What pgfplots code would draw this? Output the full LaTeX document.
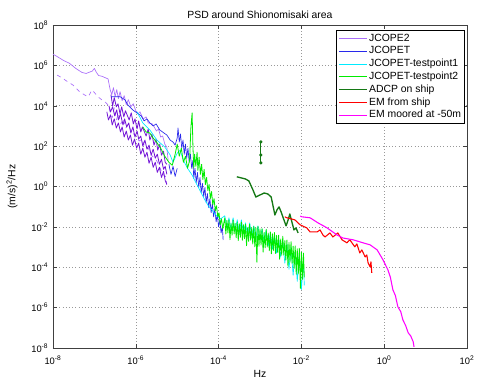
\documentclass[border=0pt]{standalone}
\usepackage{fontspec}
\setmainfont{Liberation Sans}
\usepackage{pgfplots}
\pgfplotsset{compat=1.18}
\definecolor{jc2}{RGB}{170,110,250}
\definecolor{jc2d}{RGB}{115,20,215}
\definecolor{jct}{RGB}{40,40,235}
\definecolor{tp1}{RGB}{0,235,255}
\definecolor{tp2}{RGB}{0,235,0}
\definecolor{adcp}{RGB}{20,120,20}
\definecolor{emship}{RGB}{255,0,0}
\definecolor{emmoor}{RGB}{255,0,255}
\begin{document}
\begin{tikzpicture}
\useasboundingbox (-39.75pt,-23.25pt) rectangle (318.75pt,261pt);
% values are log10(frequency / Hz) and log10(PSD / (m/s)^2/Hz)
\begin{axis}[
  at={(0,0)}, anchor=south west, scale only axis,
  width=310.5pt, height=242.25pt,
  xmin=-8, xmax=2, ymin=-8, ymax=8,
  xtick={-8,-6,-4,-2,0,2}, ytick={-8,-6,-4,-2,0,2,4,6,8},
  xticklabels={10\textsuperscript{-8},10\textsuperscript{-6},10\textsuperscript{-4},10\textsuperscript{-2},10\textsuperscript{0},10\textsuperscript{2}},
  yticklabels={10\textsuperscript{-8},10\textsuperscript{-6},10\textsuperscript{-4},10\textsuperscript{-2},10\textsuperscript{0},10\textsuperscript{2},10\textsuperscript{4},10\textsuperscript{6},10\textsuperscript{8}},
  tick label style={font=\fontsize{7}{8}\selectfont},
  xticklabel style={yshift=-2.5pt},
  tick align=inside, major tick length=3pt, tick style={black!75},
  axis line style={black!75},
  grid=major, major grid style={dotted, black!40, line width=0.45pt},
  title={PSD around Shionomisaki area},
  title style={font=\fontsize{7.8}{9}\selectfont, yshift=-4.5pt},
  xlabel={Hz}, ylabel={(m/s)\textsuperscript{2}/Hz},
  label style={font=\fontsize{7.8}{9}\selectfont},
  xlabel style={at={(axis description cs:0.5,0)}, anchor=center, yshift=-19.5pt},
  ylabel style={at={(axis description cs:-0.099,0.5)}, anchor=center},
  legend cell align=left,
  legend style={at={(0.995,0.985)}, anchor=north east, font=\fontsize{7.8}{9}\selectfont,
    inner sep=1.5pt, row sep=0pt,
    nodes={inner sep=1.2pt, text height=5.6pt, text depth=1.6pt}},
  legend image code/.code={\draw[line width=0.75pt, line cap=butt] (0pt,0pt) -- (21pt,0pt);},
  every axis plot/.append style={line width=0.5pt, line join=round},
]
% JCOPE2
\addplot[jc2] coordinates {(-8.0,6.55) (-7.95,6.5) (-7.75,6.25) (-7.6,6.1) (-7.45,5.85) (-7.3,5.65) (-7.2,5.6) (-7.05,5.72) (-7.0,5.85) (-6.95,5.65) (-6.9,5.5) (-6.8,5.45) (-6.75,5.4) (-6.67,5.33) (-6.62,4.8) (-6.58,4.55) (-6.54,4.9) (-6.5,4.45) (-6.46,4.8) (-6.42,4.35) (-6.38,4.7) (-6.33,4.25) (-6.28,4.5) (-6.23,4.05) (-6.18,4.3) (-6.12,3.95) (-6.06,4.1) (-6.0,3.75) (-5.95,3.6) (-5.9,3.7) (-5.82,3.35) (-5.75,3.45) (-5.7,3.15) (-5.6,3.1) (-5.5,2.75) (-5.45,2.85) (-5.4,2.45) (-5.35,2.5) (-5.3,2.1) (-5.25,1.95) (-5.22,1.3)};
\addlegendentry{JCOPE2}
\addplot[jc2, dashed, forget plot] coordinates {(-7.9,5.52) (-7.78,5.38) (-7.64,5.18) (-7.52,5.03) (-7.35,4.68) (-7.23,4.53) (-7.15,4.44) (-7.06,4.78) (-6.99,4.63) (-6.91,4.44) (-6.82,4.29) (-6.74,4.19) (-6.67,4.04) (-6.62,3.69) (-6.57,3.4) (-6.52,3.9) (-6.47,3.3) (-6.42,3.6) (-6.36,3.1) (-6.3,3.35) (-6.24,2.9) (-6.18,3.1) (-6.1,2.65) (-6.0,2.55) (-5.92,2.25) (-5.85,2.35) (-5.78,1.95) (-5.7,1.9) (-5.6,1.5) (-5.5,1.3) (-5.42,0.95) (-5.35,0.6) (-5.28,0.5) (-5.25,0.1)};
\addplot[jc2d, line width=0.6pt, forget plot] coordinates {(-6.60,4.55) (-6.56,4.0) (-6.52,4.4) (-6.47,3.95) (-6.43,4.1) (-6.38,3.6) (-6.34,3.95) (-6.29,3.45) (-6.25,3.75) (-6.2,3.5) (-6.16,3.3) (-6.11,3.65) (-6.06,3.1) (-6.02,3.35) (-5.97,2.85) (-5.93,3.25) (-5.88,2.7) (-5.84,2.95) (-5.8,2.75) (-5.75,2.5) (-5.7,2.85) (-5.66,2.3) (-5.61,2.6) (-5.56,2.05) (-5.51,2.35) (-5.47,1.8) (-5.42,2.1) (-5.38,1.55) (-5.33,1.75) (-5.29,1.2) (-5.25,1.1)};
\addplot[jc2d, line width=0.6pt, forget plot] coordinates {(-6.65,4.0) (-6.61,3.7) (-6.56,3.95) (-6.51,3.5) (-6.46,3.8) (-6.42,3.3) (-6.37,3.6) (-6.31,3.05) (-6.27,3.35) (-6.22,2.95) (-6.17,3.15) (-6.12,2.65) (-6.07,2.95) (-6.02,2.45) (-5.97,2.75) (-5.93,2.35) (-5.88,2.5) (-5.83,2.0) (-5.78,2.3) (-5.73,1.85) (-5.68,2.05) (-5.63,1.55) (-5.58,1.85) (-5.53,1.4) (-5.48,1.6) (-5.43,1.1) (-5.38,1.35) (-5.33,0.85) (-5.29,1.0) (-5.25,0.6)};
\addplot[jc2d, line width=0.6pt, forget plot] coordinates {(-6.70,3.7) (-6.66,3.3) (-6.61,3.55) (-6.57,3.05) (-6.52,3.35) (-6.47,2.9) (-6.42,3.15) (-6.37,2.7) (-6.33,2.95) (-6.28,2.45) (-6.23,2.75) (-6.18,2.3) (-6.13,2.55) (-6.08,2.05) (-6.03,2.35) (-5.98,1.9) (-5.93,2.15) (-5.88,1.6) (-5.83,1.9) (-5.78,1.45) (-5.73,1.7) (-5.68,1.15) (-5.63,1.45) (-5.58,0.95) (-5.53,1.2) (-5.48,0.7) (-5.43,0.95) (-5.38,0.45) (-5.33,0.75) (-5.29,0.3) (-5.25,0.1)};
% JCOPET
\addplot[jct] coordinates {(-6.6,4.45) (-6.38,4.45) (-6.26,4.29) (-6.19,4.04) (-6.07,3.79) (-5.97,3.64) (-5.87,3.5) (-5.8,3.25) (-5.73,3.35) (-5.66,3.15) (-5.58,3.0) (-5.51,3.1) (-5.42,2.8) (-5.32,2.65) (-5.25,2.55) (-5.17,2.3) (-5.1,2.2) (-5.05,2.05) (-5.0,2.4) (-4.98,2.9) (-4.95,2.2) (-4.92,2.6) (-4.89,1.9) (-4.86,2.3) (-4.83,1.6) (-4.8,2.1) (-4.77,1.4) (-4.74,1.9) (-4.71,1.2) (-4.68,1.6) (-4.65,0.9) (-4.62,1.3) (-4.6,0.4) (-4.57,0.9) (-4.54,0.2) (-4.51,0.7) (-4.48,-0.05) (-4.45,0.45) (-4.42,-0.3) (-4.39,0.15) (-4.36,-0.5) (-4.33,-0.05) (-4.3,-0.8) (-4.27,-0.35) (-4.24,-1.05) (-4.21,-0.6) (-4.18,-1.3) (-4.15,-0.85) (-4.12,-1.5) (-4.09,-1.1) (-4.06,-1.75) (-4.03,-1.4) (-4.0,-2.0) (-3.97,-1.65) (-3.94,-2.3) (-3.91,-2.0) (-3.89,-2.65)};
\addlegendentry{JCOPET}
\addplot[jct, forget plot] coordinates {(-5.2,1.1) (-5.15,0.6) (-5.1,1.0) (-5.05,0.5) (-5.0,0.9)};
% JCOPET testpoint1
\addplot[tp1] coordinates {(-5.97,3.7) (-5.83,3.15) (-5.66,2.8) (-5.49,2.3) (-5.3,1.96) (-5.17,1.56) (-5.1,1.2) (-5.0,1.65) (-4.93,1.8) (-4.85,1.3) (-4.75,0.9) (-4.65,0.6) (-4.55,0.2) (-4.45,-0.2) (-4.35,-0.6) (-4.25,-0.95) (-4.15,-1.2) (-4.05,-1.45) (-3.95,-1.6) (-3.85,-1.45) (-3.8,-2.05) (-3.75,-1.55) (-3.7,-2.1) (-3.65,-1.55) (-3.6,-2.2) (-3.55,-1.65) (-3.5,-2.3) (-3.45,-1.65) (-3.4,-2.3) (-3.35,-1.8) (-3.3,-2.45) (-3.25,-1.8) (-3.2,-2.45) (-3.15,-1.95) (-3.1,-2.55) (-3.05,-1.95) (-3.0,-2.65) (-2.95,-2.1) (-2.9,-2.75) (-2.85,-2.15) (-2.8,-2.95) (-2.75,-2.3) (-2.7,-3.1) (-2.65,-2.4) (-2.6,-3.3) (-2.55,-2.55) (-2.5,-3.5) (-2.45,-2.7) (-2.4,-3.8) (-2.35,-2.85) (-2.3,-4.1) (-2.25,-3.0) (-2.2,-4.4) (-2.15,-3.2) (-2.1,-4.7) (-2.05,-3.4) (-2.0,-5.1) (-1.95,-3.7) (-1.93,-4.9)};
\addlegendentry{JCOPET-testpoint1}
% JCOPET testpoint2
\addplot[tp2, line width=0.6pt] coordinates {(-5.83,2.95) (-5.75,2.7) (-5.66,2.65) (-5.6,2.45) (-5.5,2.2) (-5.4,1.9) (-5.3,1.5) (-5.2,1.2) (-5.12,1.05) (-5.05,1.6) (-5.0,2.1) (-4.95,1.5) (-4.9,1.9) (-4.85,1.2) (-4.8,1.5) (-4.75,0.9) (-4.7,1.3) (-4.67,2.9) (-4.64,3.65) (-4.62,2.0) (-4.6,0.9) (-4.58,1.6) (-4.55,1.0) (-4.52,1.7) (-4.5,0.8) (-4.47,1.45) (-4.44,0.6) (-4.41,1.1) (-4.38,0.35) (-4.35,0.85) (-4.32,0.1) (-4.29,0.45) (-4.26,-0.2) (-4.23,0.1) (-4.2,-0.6) (-4.17,-0.25) (-4.14,-0.9) (-4.11,-0.6) (-4.08,-1.2) (-4.05,-0.95) (-4.02,-1.5) (-3.99,-1.3) (-3.96,-1.9) (-3.93,-1.6) (-3.9,-2.1)
 (-3.85,-1.55) (-3.825,-2.35) (-3.8,-1.68) (-3.775,-2.3) (-3.75,-1.65) (-3.725,-2.63) (-3.7,-1.83) (-3.675,-2.41) (-3.65,-1.66) (-3.625,-2.35) (-3.6,-1.83) (-3.575,-2.54) (-3.55,-1.76) (-3.525,-2.68) (-3.5,-1.84) (-3.475,-2.52) (-3.45,-1.76) (-3.425,-2.66) (-3.4,-1.89) (-3.375,-2.59) (-3.35,-1.87) (-3.325,-2.93) (-3.3,-2.04) (-3.275,-2.72) (-3.25,-1.87) (-3.225,-2.66) (-3.2,-2.04) (-3.175,-2.85) (-3.15,-1.97) (-3.125,-2.99) (-3.1,-2.05) (-3.075,-3.75) (-3.05,-1.97) (-3.025,-2.96) (-3.0,-2.1) (-2.975,-2.9) (-2.95,-2.09) (-2.925,-3.25) (-2.9,-2.28) (-2.875,-3.04) (-2.85,-2.12) (-2.825,-2.99) (-2.8,-2.31) (-2.775,-3.18) (-2.75,-2.25) (-2.725,-3.33) (-2.7,-2.34) (-2.675,-3.17) (-2.65,-2.28) (-2.625,-3.32) (-2.6,-2.42) (-2.575,-3.26) (-2.55,-2.41) (-2.525,-3.61) (-2.5,-2.6) (-2.475,-3.4) (-2.45,-2.47) (-2.425,-3.4) (-2.4,-2.68) (-2.375,-3.65) (-2.35,-2.65) (-2.325,-3.95) (-2.3,-2.77) (-2.275,-3.75) (-2.25,-2.73) (-2.225,-3.8) (-2.2,-2.95) (-2.175,-4.05) (-2.15,-2.94) (-2.125,-4.34) (-2.1,-3.08) (-2.075,-4.33) (-2.05,-3.06) (-2.025,-5.05) (-2.0,-3.25) (-1.975,-4.6) (-1.95,-3.3) (-1.93,-4.5)};
\addlegendentry{JCOPET-testpoint2}
% ADCP on ship
\addplot[adcp, line width=1pt] coordinates {(-3.56,0.48) (-3.36,0.38) (-3.27,0.28) (-3.17,-0.17) (-3.10,-0.52) (-3.0,-0.42) (-2.90,-0.32) (-2.81,-0.37) (-2.73,-0.52) (-2.69,-0.91) (-2.64,-1.41) (-2.59,-1.16) (-2.54,-1.01) (-2.49,-1.26) (-2.44,-1.55) (-2.37,-1.95) (-2.32,-1.65) (-2.28,-1.36) (-2.23,-1.75) (-2.18,-2.15) (-2.13,-2.05) (-2.08,-2.30)};
\addlegendentry{ADCP on ship}
\addplot[adcp, line width=0.7pt, mark=*, mark size=0.9pt, forget plot] coordinates {(-2.98,2.21) (-2.98,1.56) (-2.98,1.17)};
% EM from ship
\addplot[emship, line width=0.8pt] coordinates {(-2.40,-1.5) (-2.35,-1.55) (-2.16,-1.65) (-2.03,-1.9) (-1.87,-2.05) (-1.79,-2.25) (-1.62,-2.25) (-1.55,-2.15) (-1.48,-2.4) (-1.43,-2.5) (-1.31,-2.3) (-1.24,-2.5) (-1.12,-2.3) (-1.02,-2.64) (-0.9,-2.79) (-0.83,-2.64) (-0.71,-2.99) (-0.66,-2.84) (-0.59,-3.29) (-0.54,-3.14) (-0.46,-3.49) (-0.42,-3.39) (-0.39,-3.78) (-0.34,-3.98) (-0.32,-3.73) (-0.30,-4.28)};
\addlegendentry{EM from ship}
% EM moored at -50m
\addplot[emmoor, line width=0.8pt] coordinates {(-2.03,-1.46) (-1.99,-1.5) (-1.79,-1.55) (-1.6,-1.8) (-1.38,-2.05) (-1.14,-2.4) (-1.0,-2.55) (-0.75,-2.64) (-0.51,-2.79) (-0.34,-2.89) (-0.17,-3.14) (-0.03,-3.63) (0.09,-4.13) (0.15,-4.5) (0.21,-5.12) (0.27,-5.4) (0.33,-5.96) (0.4,-6.2) (0.45,-6.6) (0.52,-6.9) (0.58,-7.25) (0.64,-7.4) (0.7,-7.69) (0.72,-7.94)};
\addlegendentry{EM moored at -50m}
\end{axis}
\end{tikzpicture}
\end{document}
